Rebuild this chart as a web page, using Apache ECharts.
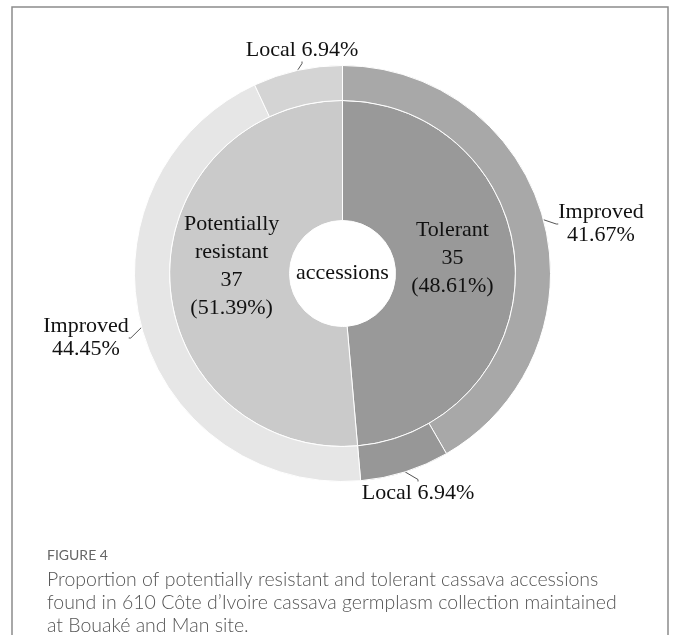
<!DOCTYPE html>
<html>
<head>
<meta charset="utf-8">
<script src="https://cdn.jsdelivr.net/npm/echarts@6/dist/echarts.min.js"></script>
<style>
  html, body { margin: 0; padding: 0; background: #fff; }
  #chart { width: 681px; height: 635px; }
</style>
</head>
<body>
<div id="chart"></div>
<script>
// Inner ring: resistance class, number of accessions
const classNames = ['Tolerant', 'Potentially resistant'];
const classCounts = [35, 37];
const classColors = ['#999999', '#cacaca'];

// Outer ring: accession type within each class, percent of all accessions
const typeNames = ['Improved', 'Local', 'Improved', 'Local'];
const typePercents = [41.67, 6.94, 44.45, 6.94];
const typeColors = ['#a8a8a8', '#979797', '#e6e6e6', '#d4d4d4'];

const centerText = 'accessions';
const figureLabel = 'FIGURE 4';
const captionLines = [
  'Proportion of potentially resistant and tolerant cassava accessions',
  'found in 610 C\u00f4te d\u2019Ivoire cassava germplasm collection maintained',
  'at Bouak\u00e9 and Man site.'
];

const serif = '"Liberation Serif", "Times New Roman", serif';
const sans = 'Lato, "Open Sans", sans-serif';
const CX = 342.5, CY = 273.5;

// label placement for the inner and outer rings
const innerShift = [[-6, -10], [5, -12]];
const outerSpots = [[601, 224], [418, 493], [86, 338], [302, 50]];

const chart = echarts.init(document.getElementById('chart'), null, { renderer: 'canvas' });

chart.setOption({
  backgroundColor: '#ffffff',
  animation: false,
  series: [
    {
      type: 'pie',
      center: [CX, CY],
      radius: [53, 173],
      startAngle: 90,
      clockwise: true,
      silent: true,
      itemStyle: { borderColor: '#ffffff', borderWidth: 1 },
      label: {
        position: 'inside',
        fontFamily: serif,
        fontSize: 22,
        lineHeight: 28,
        color: '#111',
        formatter: p => p.name.replace(' ', '\n') + '\n' + p.value + '\n(' + p.percent.toFixed(2) + '%)'
      },
      labelLayout: p => ({ dx: innerShift[p.dataIndex][0], dy: innerShift[p.dataIndex][1] }),
      data: classNames.map((n, i) => ({ name: n, value: classCounts[i], itemStyle: { color: classColors[i] } }))
    },
    {
      type: 'pie',
      center: [CX, CY],
      radius: [173, 208],
      startAngle: 90,
      clockwise: true,
      silent: true,
      itemStyle: { borderColor: '#ffffff', borderWidth: 1 },
      label: {
        position: 'outside',
        fontFamily: serif,
        fontSize: 22,
        lineHeight: 23,
        color: '#111',
        formatter: p => p.name + (p.dataIndex % 2 === 0 ? '\n' : ' ') + p.value.toFixed(2) + '%'
      },
      labelLine: {
        show: true,
        length: 6,
        length2: 2,
        lineStyle: { color: '#555', width: 1 }
      },
      labelLayout: p => ({
        x: outerSpots[p.dataIndex][0],
        y: outerSpots[p.dataIndex][1],
        align: 'center',
        verticalAlign: 'middle'
      }),
      data: typeNames.map((n, i) => ({ name: n, value: typePercents[i], itemStyle: { color: typeColors[i] } }))
    }
  ],
  graphic: [
    {
      type: 'rect',
      shape: { x: 12, y: 7, width: 656, height: 700 },
      style: { fill: 'none', stroke: '#8c8c8c', lineWidth: 1.5 },
      silent: true
    },
    {
      type: 'text',
      x: CX, y: CY,
      style: { text: centerText, font: '22px ' + serif, fill: '#111', align: 'center', verticalAlign: 'middle' },
      silent: true
    },
    {
      type: 'text',
      x: 47, y: 555,
      style: { text: figureLabel, font: '14px ' + sans, fill: '#666', verticalAlign: 'middle' },
      silent: true
    },
    {
      type: 'text',
      x: 47, y: 568,
      style: { text: captionLines.join('\n'), font: '300 19.5px ' + sans, fill: '#555', lineHeight: 23 },
      silent: true
    }
  ]
});
</script>
</body>
</html>
